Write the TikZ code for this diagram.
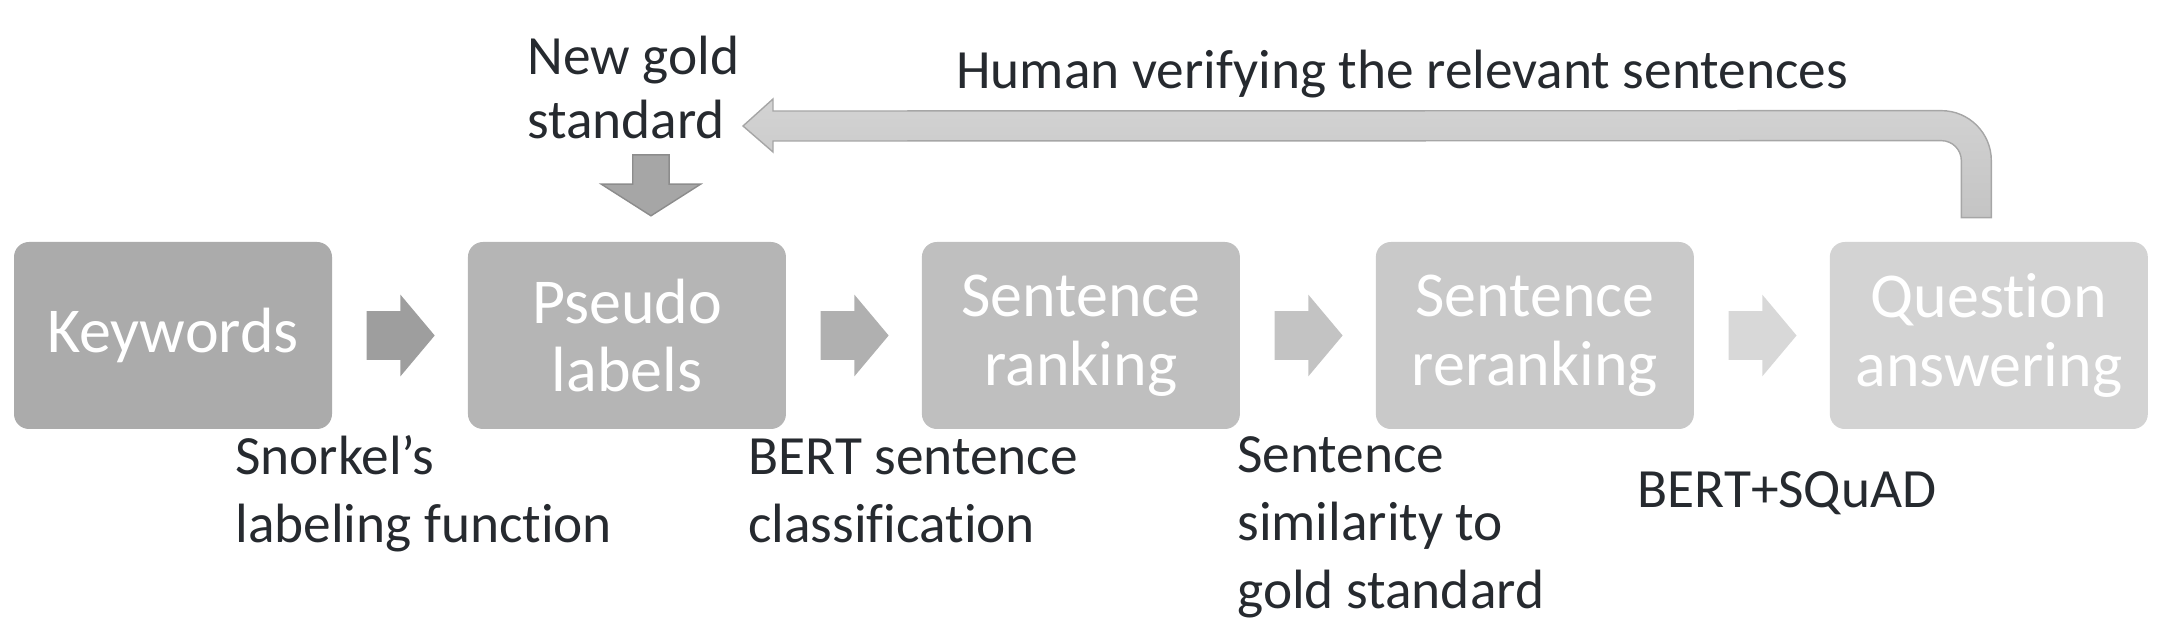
\documentclass[tikz,border=0pt]{standalone}
\usepackage{fontspec}
\setmainfont{Carlito}[Ligatures=NoCommon]
\usepackage{xcolor}
\usepackage{tikz}
\usetikzlibrary{positioning, calc, shapes.arrows}

\definecolor{ink}{HTML}{262A2F}
\definecolor{box1}{HTML}{ABABAB}
\definecolor{box2}{HTML}{B5B5B5}
\definecolor{box3}{HTML}{BFBFBF}
\definecolor{box4}{HTML}{C9C9C9}
\definecolor{box5}{HTML}{D3D3D3}
\definecolor{arr1}{HTML}{9E9E9E}
\definecolor{arr2}{HTML}{B0B0B0}
\definecolor{arr3}{HTML}{C3C3C3}
\definecolor{arr4}{HTML}{D8D8D8}
\definecolor{goldfill}{HTML}{A6A6A6}
\definecolor{goldline}{HTML}{8C8C8C}
\definecolor{fbtop}{HTML}{D3D3D3}
\definecolor{fbbot}{HTML}{C4C4C4}
\definecolor{fbline}{HTML}{A6A6A6}

\begin{document}
\begin{tikzpicture}[
    node distance=2.705cm,
    stage/.style={rectangle, rounded corners=0.3cm, minimum width=6.36cm, minimum height=3.74cm, inner sep=0pt, align=center, text=white, font=\fontsize{36.4}{39.2}\selectfont},
    flow/.style={single arrow, anchor=tail, minimum height=1.36cm, inner xsep=0pt, inner ysep=0.48cm, single arrow head extend=0.33cm, single arrow tip angle=100},
    newgold/.style={single arrow, rotate=-90, minimum height=1.22cm, inner xsep=0pt, inner ysep=0.35cm, single arrow head extend=0.63cm, single arrow tip angle=115, fill=goldfill, draw=goldline, line width=0.8pt},
    note/.style={align=left, inner sep=0pt, text=ink, font=\fontsize{31.5}{38.7}\selectfont},
    feedback/.style={top color=fbtop, bottom color=fbbot, draw=fbline, line width=0.8pt}
]
\useasboundingbox (0,0) rectangle (43.44,-12.8);

% Pipeline stages
\node[stage, fill=box1] (kw) at (3.46,-6.71) {Keywords};
\node[stage, fill=box2, right=of kw] (pl) {Pseudo\\labels};
\node[stage, fill=box3, right=of pl] (sr) {Sentence\\ranking};
\node[stage, fill=box4, right=of sr] (rr) {Sentence\\reranking};
\node[stage, fill=box5, right=of rr] (qa) {Question\\answering};

% Arrows between stages
\node[flow, fill=arr1] (a1) at ([xshift=0.68cm]kw.east) {};
\node[flow, fill=arr2] (a2) at ([xshift=0.68cm]pl.east) {};
\node[flow, fill=arr3] (a3) at ([xshift=0.68cm]sr.east) {};
\node[flow, fill=arr4] (a4) at ([xshift=0.68cm]rr.east) {};

% Methods under the arrows (base = last line)
\node[note, anchor=base west] (snorkel) at (4.70,-10.86) {Snorkel’s\\labeling function};
\node[note, anchor=base west] (bertcls) at (14.96,-10.86) {BERT sentence\\classification};
\node[note, anchor=base west] (simil) at (24.74,-12.18) {Sentence\\similarity to\\gold standard};
\node[note, anchor=base west] (squad) at (32.74,-10.16) {BERT+SQuAD};

% Gold standard feedback
\node[note, anchor=base west, font=\fontsize{31.5}{36.5}\selectfont] (gold) at (10.54,-2.78) {New gold\\standard};
\node[newgold, anchor=tip] (goldin) at ([xshift=0.48cm, yshift=0.5cm]pl.north) {};
\node[note, anchor=base west] (human) at (19.12,-1.78) {Human verifying the relevant sentences};

\coordinate (fbtip) at (14.86,-2.52);
\coordinate (fbend) at ([xshift=-0.25cm, yshift=0.48cm]qa.north);
\draw[feedback] (fbtip) -- ++(0.6,0.54) -- ++(0,-0.24)
    -- ($(fbend)+(-0.7,2.14)$) arc[start angle=90, end angle=0, radius=1cm]
    -- ($(fbend)+(0.3,0)$) -- ($(fbend)+(-0.3,0)$) -- ++(0,1.14)
    arc[start angle=0, end angle=90, radius=0.4cm]
    -- ($(fbtip)+(0.6,-0.3)$) -- ++(0,-0.22) -- cycle;

\end{tikzpicture}
\end{document}
